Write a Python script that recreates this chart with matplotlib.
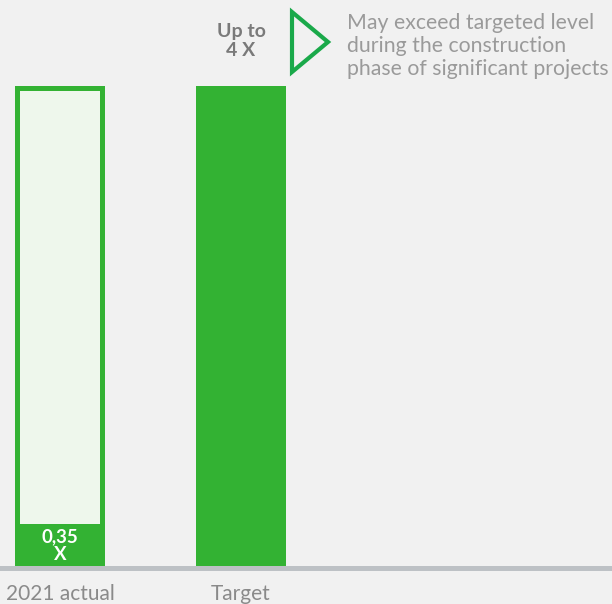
import matplotlib
matplotlib.use("Agg")
import matplotlib.pyplot as plt
from matplotlib.patches import Polygon

# --- DATA ---
categories = ["2021 actual", "Target"]
target_level = 4.0
actual_value = 0.35
actual_label = "0,35\nX"
target_label = "Up to\n4 X"
note_text = "May exceed targeted level\nduring the construction\nphase of significant projects"

# --- STYLE ---
BG = "#f1f1f1"
GREEN = "#33b233"
ARROW_GREEN = "#1aa94a"
LIGHT = "#eef7ec"
BASE = "#bdc1c5"
plt.rcParams["font.family"] = ["Lato", "DejaVu Sans"]

W, H, DPI = 612, 604, 100
fig = plt.figure(figsize=(W / DPI, H / DPI), dpi=DPI, facecolor=BG)
ax = fig.add_axes([0, 0, 1, 1], facecolor=BG)

# pixel scale: 181 px between bar centres, 120 px per unit of the ratio
px_x = 1 / 181
px_y = 1 / 120
ax.set_xlim(-60 * px_x, (W - 60) * px_x)
ax.set_ylim(-38 * px_y, (H - 38) * px_y)
ax.axis("off")

x = list(range(len(categories)))
bw = 90 * px_x
border = 5

# 2021 actual: outlined bar at target level with the actual value filled in
ax.bar(x[0], target_level, width=bw, color=GREEN, zorder=2)
ax.bar(x[0], target_level - border * px_y, width=bw - 2 * border * px_x,
       color=LIGHT, zorder=3)
ax.bar(x[0], actual_value, width=bw, color=GREEN, zorder=4)
ax.text(x[0], actual_value / 2 - 1 * px_y, actual_label, ha="center",
        va="center", color="white", fontsize=13.5, fontweight="bold",
        linespacing=1.05, zorder=5)

# target bar
ax.bar(x[1], target_level, width=bw, color=GREEN, zorder=2)
ax.text(x[1], target_level + 45 * px_y, target_label, ha="center", va="center",
        color="#7a7a7a", fontsize=14, fontweight="bold", linespacing=1.2)

# baseline
ax.axhspan(-4.5 * px_y, 0.5 * px_y, color=BASE, zorder=1, lw=0)

# category labels
for xi, cat in zip(x, categories):
    ax.text(xi, -28 * px_y, cat, ha="center", va="center",
            color="#8a8a8a", fontsize=15)

# triangle marker and note, placed right of the target bar
top = target_level + 74 * px_y
tri = Polygon([(x[1] + 51 * px_x, top),
               (x[1] + 51 * px_x, top - 60 * px_y),
               (x[1] + 87 * px_x, top - 30 * px_y)],
              closed=True, fill=False, edgecolor=ARROW_GREEN, lw=3.0,
              joinstyle="miter")
ax.add_patch(tri)
ax.text(x[1] + 106 * px_x, top - 1 * px_y, note_text,
        ha="left", va="top", color="#9a9a9a", fontsize=15.3,
        linespacing=1.2)

fig.savefig("out.png", dpi=DPI, facecolor=BG)
